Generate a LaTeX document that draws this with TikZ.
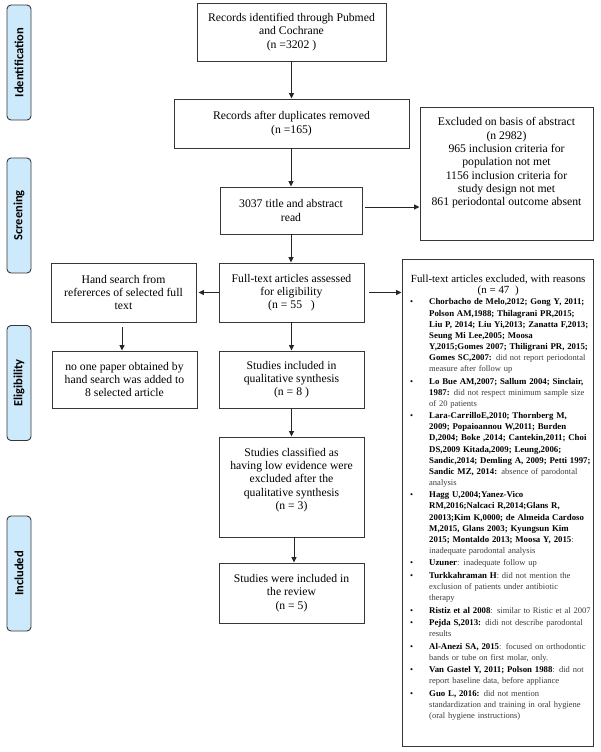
\documentclass[tikz,border=0pt]{standalone}
\usepackage{fontspec}
\setmainfont{Liberation Serif}
\newfontfamily\labfont{Carlito}
\usetikzlibrary{arrows.meta}
\definecolor{sidefill}{RGB}{205,233,252}
\definecolor{edgecol}{RGB}{55,55,55}
\definecolor{regcol}{RGB}{60,60,60}
\newcommand\bitem[1]{\par\vspace{1.4pt}\noindent\hangindent=21pt\hangafter=1\makebox[21pt][l]{\hspace{2pt}\textbullet}#1\par}
\newcommand\rg[1]{\textcolor{regcol}{#1}}
\newcommand\bt[1]{{\fontsize{8.8}{11.1}\selectfont\bfseries #1}}
\newcommand\nl{\hfil\break}
\begin{document}
\begin{tikzpicture}[x=1pt,y=-1pt,
  box/.style={draw=edgecol, line width=0.9pt, inner sep=0pt, align=center, font=\fontsize{11.7}{13.3}\selectfont},
  btext/.style={align=center, inner sep=0pt, font=\fontsize{11.7}{13.3}\selectfont},
  side/.style={draw=edgecol, fill=sidefill, rounded corners=4pt, line width=0.9pt, rotate=90, minimum width=115pt, minimum height=24pt, inner sep=0pt, font=\labfont\bfseries\fontsize{12.5}{14}\selectfont},
  arr/.style={draw=black!85, line width=0.9pt, -{Triangle[length=5.5pt,width=5pt]}}]
\useasboundingbox (0,0) rectangle (600,752);
% phase labels
\node[side] (sid) at (19,62.5) {Identification};
\node[side] (ssc) at (19,215.5) {Screening};
\node[side] (sel) at (19,383) {Eligibility};
\node[side] (sin) at (19,573.5) {Included};
% main boxes
\node[box, minimum width=189pt, minimum height=58pt] (rec) at (291.5,32) {Records identified through Pubmed\\and Cochrane\\(n =3202 )};
\node[box, minimum width=235pt, minimum height=49pt] (dup) at (291.5,123.5) {Records after duplicates removed\\(n =165)};
\node[box, minimum width=142pt, minimum height=47pt] (tit) at (291,210.5) {3037 title and abstract\\read};
\node[box, minimum width=173pt, minimum height=133pt] (exa) at (506.5,173.5) {};
\node[btext] (exatext) at (506.5,163) {Excluded on basis of abstract\\(n 2982)\\965 inclusion criteria for\\population not met\\1156 inclusion criteria for\\study design not met\\861 periodontal outcome absent};
\node[box, minimum width=145pt, minimum height=59pt] (ful) at (291.5,292.5) {Full-text articles assessed\\for eligibility\\(n = 55~~~)};
\node[box, minimum width=145pt, minimum height=59pt] (hand) at (123.5,292.5) {Hand search from\\refererces of selected full\\text};
\node[box, minimum width=145pt, minimum height=57pt] (none) at (124.5,379.5) {no one paper obtained by\\hand search was added to\\8 selected article};
\node[box, minimum width=145pt, minimum height=57pt] (qual) at (291.5,379.5) {Studies included in\\qualitative synthesis\\(n = 8 )};
\node[box, minimum width=145pt, minimum height=100pt] (cls) at (291.5,487) {};
\node[btext] (clstext) at (291.5,480) {Studies classified as\\having low evidence were\\excluded after the\\qualitative synthesis\\(n = 3)};
\node[box, minimum width=145pt, minimum height=60pt] (rev) at (291.5,593) {Studies were included in\\the review\\(n = 5)};
\node[box, minimum width=191pt, minimum height=487pt] (exr) at (497.5,502.5) {};
\node[anchor=north west, inner sep=0pt, text width=192pt, font=\fontsize{8.5}{11.1}\selectfont] (exrtext) at (408,275) {%
{\fontsize{10.9}{11}\selectfont
\hbox to 180pt{\hss Full-text articles excluded, with reasons\hss}
\hbox to 180pt{\hss (n = 47~~)\hss}}
\vspace{-1.4pt}
\bitem{\bt{Chorbacho de Melo,2012; Gong Y, 2011;}\nl\bt{Polson AM,1988; Thilagrani PR,2015;}\nl\bt{Liu P, 2014; Liu Yi,2013; Zanatta F,2013;}\nl\bt{Seung Mi Lee,2005; Moosa}\nl\bt{Y,2015;Gomes 2007; Thiligrani PR, 2015;}\nl\bt{Gomes SC,2007:} \rg{did not report periodontal}\nl\rg{measure after follow up}}
\bitem{\bt{Lo Bue AM,2007; Sallum 2004; Sinclair,}\nl\bt{1987:} \rg{did not respect minimum sample size}\nl\rg{of 20 patients}}
\bitem{\bt{Lara-CarrilloE,2010; Thornberg M,}\nl\bt{2009; Popaioannou W,2011; Burden}\nl\bt{D,2004; Boke ,2014; Cantekin,2011; Choi}\nl\bt{DS,2009 Kitada,2009; Leung,2006;}\nl\bt{Sandic,2014; Demling A, 2009; Petti 1997;}\nl\bt{Sandic MZ, 2014:} \rg{absence of parodontal}\nl\rg{analysis}}
\bitem{\bt{Hagg U,2004;Yanez-Vico}\nl\bt{RM,2016;Nalcaci R,2014;Glans R,}\nl\bt{20013;Kim K,0000; de Almeida Cardoso}\nl\bt{M,2015, Glans 2003; Kyungsun Kim}\nl\bt{2015; Montaldo 2013; Moosa Y, 2015}\rg{:}\nl\rg{inadequate parodontal analysis}}
\bitem{\bt{Uzuner}\rg{: inadequate follow up}}
\bitem{\bt{Turkkahraman H}\rg{: did not mention the}\nl\rg{exclusion of patients under antibiotic}\nl\rg{therapy}}
\bitem{\bt{Ristiz et al 2008}\rg{: similar to Ristic et al 2007}}
\bitem{\bt{Pejda S,2013:} \rg{didi not describe parodontal}\nl\rg{results}}
\bitem{\bt{Al-Anezi SA, 2015}\rg{: focused on orthodontic}\nl\rg{bands or tube on first molar, only.}}
\bitem{\bt{Van Gastel Y, 2011; Polson 1988}\rg{: did not}\nl\rg{report baseline data, before appliance}}
\bitem{\bt{Guo L, 2016:} \rg{did not mention}\nl\rg{standardization and training in oral hygiene}\nl\rg{(oral hygiene instructions)}}
};
% connectors
\draw[arr] (rec) -- (dup);
\draw[arr] (dup.south -| tit.north) -- (tit.north);
\draw[arr, shorten <=3pt] ([yshift=3.5pt]tit.east) -- ([yshift=3.5pt]tit.east -| exa.west);
\draw[arr] (tit.south) -- (tit.south |- ful.north);
\draw[arr, shorten >=2pt] (ful.west) -- (hand.east);
\draw[arr, shorten <=5pt] (ful.east) -- (ful.east -| exr.west);
\draw[arr, shorten <=5pt] ([xshift=-1.5pt]hand.south) -- ([xshift=-1.5pt]hand.south |- none.north);
\draw[arr] (ful) -- (qual);
\draw[arr] (qual) -- (cls);
\draw[arr] ([xshift=2.5pt]cls.south) -- ([xshift=2.5pt]cls.south |- rev.north);
\end{tikzpicture}
\end{document}
